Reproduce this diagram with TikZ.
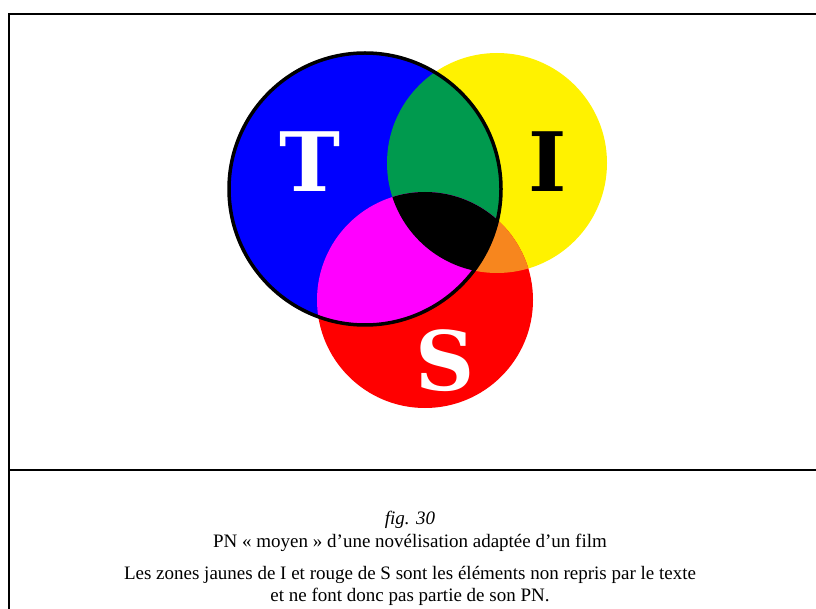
\documentclass[tikz,border=0pt]{standalone}
\usepackage{fontspec}
\setmainfont{Liberation Serif}
\newfontfamily\lettrefont{DejaVu Serif}
\usetikzlibrary{positioning}
\definecolor{ZoneT}{HTML}{0000FF}
\definecolor{ZoneI}{HTML}{FFF200}
\definecolor{ZoneS}{HTML}{FF0000}
\definecolor{ZoneTI}{HTML}{009A4E}
\definecolor{ZoneTS}{HTML}{FF00FF}
\definecolor{ZoneIS}{HTML}{F7861E}

\begin{document}
\begin{tikzpicture}[
    x=1pt,y=-1pt,
    frameline/.style={
        line width=2.2pt,
        color=black,
    },
    lettre/.style={
        font=\lettrefont\bfseries\fontsize{82}{82}\selectfont,
        inner sep=0pt,
    },
    legende/.style={
        align=center,
        font=\fontsize{19}{21.5}\selectfont,
        inner sep=0pt,
        anchor=base,
    },
]
\useasboundingbox (0,0) rectangle (816,609);

% frame and separator
\coordinate (tl) at (9,14);
\coordinate (tr) at (816,14);
\coordinate (bl) at (9,609);
\coordinate (sl) at (9,470);
\coordinate (sr) at (816,470);
\draw[frameline] (tr) -- (tl) -- (bl);
\draw[frameline] (sl) -- (sr);

% circle centres
\coordinate (tc) at (365,189);
\coordinate (ic) at (497,163);
\coordinate (sc) at (425,300);

\fill[ZoneI] (ic) circle (110);
\fill[ZoneS] (sc) circle (108);
\begin{scope}
    \clip (ic) circle (110);
    \fill[ZoneIS] (sc) circle (108);
\end{scope}
\fill[ZoneT] (tc) circle (136);
\begin{scope}
    \clip (tc) circle (136);
    \fill[ZoneTI] (ic) circle (110);
    \fill[ZoneTS] (sc) circle (108);
    \clip (ic) circle (110);
    \fill[black] (sc) circle (108);
\end{scope}
\draw[line width=3.5pt] (tc) circle (136);

\node[lettre,white] (t) at (310,162) {T};
\node[lettre,black] (i) at (548,162) {I};
\node[lettre,white] (s) at (445,361) {S};

% caption (base = last line)
\node[legende] (fig) at (410,524) {\textit{fig. 30}};
\node[legende] (titre) at (410,547) {PN « moyen » d’une novélisation adaptée d’un film};
\node[legende] (note) at (410,601) {Les zones jaunes de I et rouge de S sont les éléments non repris par le texte\\
et ne font donc pas partie de son PN.};
\end{tikzpicture}
\end{document}
